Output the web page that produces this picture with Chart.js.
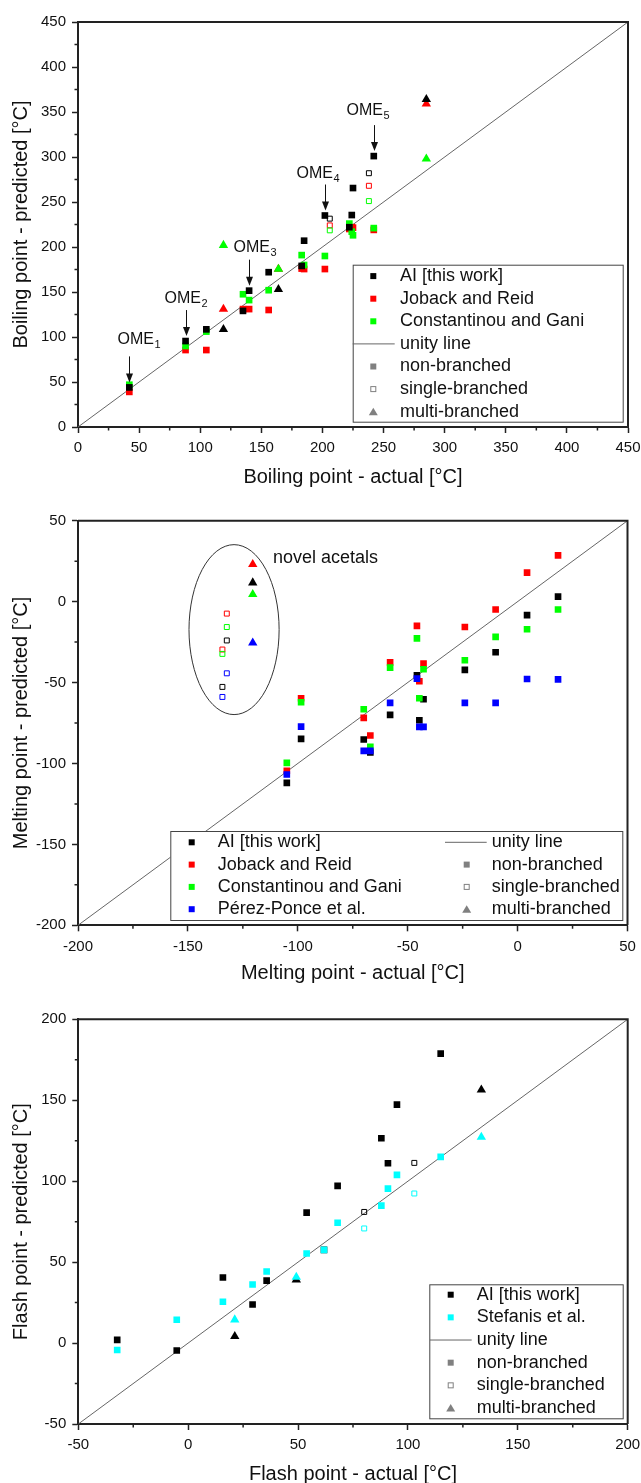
<!DOCTYPE html>
<html>
<head>
<meta charset="utf-8">
<title>Predicted vs. actual boiling, melting and flash points</title>
<script src="https://cdn.jsdelivr.net/npm/chart.js@4.4.1/dist/chart.umd.min.js"></script>
<style>
  html, body { margin: 0; padding: 0; background: #fff; overflow: hidden; }
  canvas { display: block; }
</style>
</head>
<body>
<canvas id="bpChart" width="641" height="495"></canvas>
<canvas id="mpChart" width="641" height="495"></canvas>
<canvas id="fpChart" width="641" height="500"></canvas>
<script>
// branching: n = non-branched, s = single-branched, m = multi-branched

// boiling point [°C]
var bpRange   = [0, 450];
var bpActual  = [42, 88, 105, 119, 135, 140, 156, 164, 183, 185, 202, 206, 222, 224, 225, 238, 242, 285];
var bpBranch  = ['n','n','n','m','n','n','n','m','n','n','n','s','n','n','n','s','n','m'];
var bpAI      = [44, 95.5, 108.5, 108.5, 129, 151.5, 172, 153, 179, 207, 235, 231.5, 222, 235.5, 265.5, 282, 301, 364];
var bpJoback  = [39, 85.5, 85.5, 131, 131, 131, 130, 175.5, 176, 175.5, 175.5, 224, 220, 222, 221.5, 268, 219, 359];
var bpCG      = [47, 90, 106, 202, 147.5, 141, 152, 175.5, 191, 180, 190, 218.5, 226, 217, 213, 251, 221, 298];

// melting point [°C]
var mpRange   = [-200, 50];
var mpActual  = [-134.3, -132.3, -120.5, -105, -98.5, -70, -67, -58, -45.8, -44.7, -42.8, -24, -10, 4.3, 18.4];
var mpBranch  = ['s','s','m','n','n','n','n','n','n','n','n','n','n','n','n'];
var mpAI      = [-52.7, -24, 11.7, -112, -84.8, -85.2, -93.2, -70, -45.5, -73.3, -60.3, -42.2, -31.3, -8.3, 3.1];
var mpJoback  = [-29.6, -7.4, 23, -104.5, -59.7, -71.8, -82.7, -37.5, -15, -49.2, -38.3, -15.7, -4.9, 17.9, 28.6];
var mpCG      = [-32.3, -15.7, 4.5, -99.6, -62.2, -66.5, -89.7, -40.8, -22.7, -59.7, -41.8, -36.2, -21.8, -17.1, -4.9];
var mpPerez   = [-58.9, -44.3, -25.5, -106.8, -77.2, -92.2, -92.2, -62.6, -47.6, -77.4, -77.4, -62.6, -62.6, -47.8, -48];

// flash point [°C]
var fpRange   = [-50, 200];
var fpActual  = [-32.3, -5.2, 15.8, 21.2, 29.3, 35.7, 49.2, 53.9, 61.8, 68, 80.1, 87.9, 90.9, 95, 102.9, 114.9, 133.4];
var fpBranch  = ['n','n','n','m','n','n','m','n','n','n','s','n','n','n','s','n','m'];
var fpAI      = [2, -4.6, 40.5, 4.1, 23.8, 38.6, 39.1, 80.6, 57.6, 97.1, 81, 126.5, 111.1, 147.3, 111.3, 178.8, 156.4];
var fpStefanis = [-4.3, 14.4, 25.5, 14.4, 36.2, 44.2, 40.7, 55.3, 57.6, 74.3, 70.8, 84.9, 95.4, 103.9, 92.4, 115, 127.2];

// OME_n labels in the boiling point plot (index into bpActual)
var omeTags = [
    {n: '1', at: 0,  dx: -12, lift: 43},
    {n: '2', at: 1,  dx: -22, lift: 38},
    {n: '3', at: 5,  dx: -16, lift: 39},
    {n: '4', at: 10, dx: -29, lift: 38},
    {n: '5', at: 16, dx: -28, lift: 41}
];

// ring around the novel acetals, in melting point units
var acetalRing = {x: -129, y: -17.3, rx: 20.5, ry: 52.5};
var acetalText = {x: -111.3, y: 27.2, text: 'novel acetals'};

var FONT = '"Liberation Sans", Arial, sans-serif';
var W = 641;

Chart.defaults.font.family = FONT;
Chart.defaults.color = '#111';

function pointSet(label, color, actual, pred, branch, order) {
    var pts = [];
    for (var i = 0; i < actual.length; i++) {
        pts.push({x: actual[i], y: pred[i], branch: branch[i]});
    }
    function kind(c) { return c.raw ? c.raw.branch : 'n'; }
    return {
        label: label,
        data: pts,
        order: order,
        showLine: false,
        pointStyle: function(c) { return kind(c) === 'm' ? 'triangle' : 'rect'; },
        pointRadius: function(c) {
            var k = kind(c);
            return k === 'm' ? 5.4 : (k === 's' ? 3.5 : 4.7);
        },
        pointBackgroundColor: function(c) { return kind(c) === 's' ? 'rgba(255,255,255,0)' : color; },
        pointBorderColor: color,
        pointBorderWidth: function(c) { return kind(c) === 's' ? 1 : 0; }
    };
}

function unityLine(range) {
    return {
        label: 'unity line',
        data: [{x: range[0], y: range[0]}, {x: range[1], y: range[1]}],
        order: 20,
        showLine: true,
        borderColor: '#666',
        borderWidth: 1,
        pointRadius: 0
    };
}

function axes(range, xTitle, yTitle, area, h, pad) {
    var grid = {drawOnChartArea: false, drawTicks: true, tickLength: 6, tickWidth: 1.5, tickColor: '#222', color: '#222'};
    var border = {display: true, color: '#222', width: 2};
    return {
        x: {
            type: 'linear', min: range[0], max: range[1],
            ticks: {stepSize: 50, font: {size: 15}, color: '#111', padding: pad.xTick, maxRotation: 0, autoSkip: false},
            grid: grid, border: border,
            title: {display: true, text: xTitle, font: {size: 20}, color: '#111', padding: {top: 0, bottom: pad.xTitle}},
            afterFit: function(s) {
                s.height = h - area.bottom;
                s.paddingLeft = 0;
                s.paddingRight = 0;
            }
        },
        y: {
            type: 'linear', min: range[0], max: range[1],
            ticks: {stepSize: 50, font: {size: 15}, color: '#111', padding: 6, autoSkip: false},
            grid: grid, border: border,
            title: {display: true, text: yTitle, font: {size: 20}, color: '#111', padding: {top: 9, bottom: 0}},
            afterFit: function(s) {
                s.width = area.left;
                s.paddingTop = 0;
                s.paddingBottom = 0;
            }
        }
    };
}

// top/right border of the plot box plus the minor ticks
var frame = {
    id: 'frame',
    afterDraw: function(chart) {
        var a = chart.chartArea, ctx = chart.ctx;
        var xs = chart.scales.x, ys = chart.scales.y;
        ctx.save();
        ctx.strokeStyle = '#222';
        ctx.lineWidth = 2;
        ctx.beginPath();
        ctx.moveTo(a.left, a.top);
        ctx.lineTo(a.right, a.top);
        ctx.lineTo(a.right, a.bottom);
        ctx.stroke();
        ctx.lineWidth = 1.5;
        ctx.beginPath();
        for (var v = xs.min + 25; v < xs.max; v += 50) {
            var px = xs.getPixelForValue(v);
            ctx.moveTo(px, a.bottom);
            ctx.lineTo(px, a.bottom + 3.5);
        }
        for (v = ys.min + 25; v < ys.max; v += 50) {
            var py = ys.getPixelForValue(v);
            ctx.moveTo(a.left, py);
            ctx.lineTo(a.left - 3.5, py);
        }
        ctx.stroke();
        ctx.restore();
    }
};

function drawMark(ctx, mark, color, x, y) {
    ctx.fillStyle = color;
    ctx.strokeStyle = color;
    if (mark === 'rect') {
        ctx.fillRect(x - 3, y - 3, 6, 6);
    } else if (mark === 'open') {
        ctx.lineWidth = 1;
        ctx.strokeRect(x - 2.5, y - 2.5, 5, 5);
    } else if (mark === 'tri') {
        ctx.beginPath();
        ctx.moveTo(x, y - 4);
        ctx.lineTo(x + 4.5, y + 3.5);
        ctx.lineTo(x - 4.5, y + 3.5);
        ctx.closePath();
        ctx.fill();
    }
}

// boxed legend in the lower right corner of the plot area
function legendBox(cfg) {
    return {
        id: 'legendBox',
        afterDatasetsDraw: function(chart) {
            var a = chart.chartArea, ctx = chart.ctx;
            var left = a.right - cfg.inset[0] - cfg.width;
            var top = a.bottom - cfg.inset[1] - cfg.height;
            ctx.save();
            ctx.fillStyle = '#fff';
            ctx.fillRect(left, top, cfg.width, cfg.height);
            ctx.strokeStyle = '#444';
            ctx.lineWidth = 1;
            ctx.strokeRect(left + 0.5, top + 0.5, cfg.width, cfg.height);
            cfg.columns.forEach(function(col) {
                col.items.forEach(function(item, k) {
                    var y = top + cfg.firstRow + k * cfg.rowGap;
                    if (item.mark === 'line') {
                        ctx.strokeStyle = '#666';
                        ctx.lineWidth = 1;
                        ctx.beginPath();
                        ctx.moveTo(left + col.line[0], y);
                        ctx.lineTo(left + col.line[1], y);
                        ctx.stroke();
                    } else {
                        drawMark(ctx, item.mark, item.color, left + col.mark, y);
                    }
                    ctx.fillStyle = '#111';
                    ctx.font = '18px ' + FONT;
                    ctx.textAlign = 'left';
                    ctx.textBaseline = 'middle';
                    ctx.fillText(item.text, left + col.text, y);
                });
            });
            ctx.restore();
        }
    };
}

var branchItems = [
    {mark: 'rect', color: '#808080', text: 'non-branched'},
    {mark: 'open', color: '#808080', text: 'single-branched'},
    {mark: 'tri',  color: '#808080', text: 'multi-branched'}
];
var unityItem = {mark: 'line', text: 'unity line'};

// arrows + OME_n labels
var omeLabels = {
    id: 'omeLabels',
    afterDatasetsDraw: function(chart) {
        var xs = chart.scales.x, ys = chart.scales.y, ctx = chart.ctx;
        ctx.save();
        omeTags.forEach(function(t) {
            var px = Math.round(xs.getPixelForValue(bpActual[t.at])) + 0.5;
            var py = ys.getPixelForValue(bpAI[t.at]);
            ctx.strokeStyle = '#111';
            ctx.fillStyle = '#111';
            ctx.lineWidth = 1;
            ctx.beginPath();
            ctx.moveTo(px, py - 31);
            ctx.lineTo(px, py - 12);
            ctx.stroke();
            ctx.beginPath();
            ctx.moveTo(px, py - 5);
            ctx.lineTo(px - 3.5, py - 14);
            ctx.lineTo(px + 3.5, py - 14);
            ctx.closePath();
            ctx.fill();

            var base = py - t.lift;
            ctx.textAlign = 'left';
            ctx.textBaseline = 'alphabetic';
            ctx.font = '16px ' + FONT;
            ctx.fillText('OME', px + t.dx, base);
            var w = ctx.measureText('OME').width;
            ctx.font = '11px ' + FONT;
            ctx.fillText(t.n, px + t.dx + w + 0.5, base + 4);
        });
        ctx.restore();
    }
};

var acetalMark = {
    id: 'acetalMark',
    beforeDatasetsDraw: function(chart) {
        var xs = chart.scales.x, ys = chart.scales.y, ctx = chart.ctx;
        var cx = xs.getPixelForValue(acetalRing.x);
        var cy = ys.getPixelForValue(acetalRing.y);
        var rx = Math.abs(xs.getPixelForValue(acetalRing.x + acetalRing.rx) - cx);
        var ry = Math.abs(ys.getPixelForValue(acetalRing.y + acetalRing.ry) - cy);
        ctx.save();
        ctx.strokeStyle = '#333';
        ctx.lineWidth = 1;
        ctx.beginPath();
        ctx.ellipse(cx, cy, rx, ry, 0, 0, Math.PI * 2);
        ctx.stroke();
        ctx.fillStyle = '#111';
        ctx.font = '18px ' + FONT;
        ctx.textAlign = 'left';
        ctx.textBaseline = 'middle';
        ctx.fillText(acetalText.text, xs.getPixelForValue(acetalText.x), ys.getPixelForValue(acetalText.y));
        ctx.restore();
    }
};

function makePanel(id, datasets, range, titles, area, pad, plugins) {
    var canvas = document.getElementById(id);
    var h = canvas.height;
    return new Chart(canvas, {
        type: 'scatter',
        data: {datasets: datasets},
        options: {
            responsive: false,
            animation: false,
            events: [],
            layout: {padding: {left: 0, top: area.top, right: W - area.right, bottom: 0}},
            scales: axes(range, titles[0], titles[1], area, h, pad),
            plugins: {legend: {display: false}, tooltip: {enabled: false}}
        },
        plugins: plugins
    });
}

function pageLoad() {
    makePanel('bpChart', [
            pointSet('AI [this work]', '#000000', bpActual, bpAI, bpBranch, 0),
            pointSet('Constantinou and Gani', '#00ff00', bpActual, bpCG, bpBranch, 1),
            pointSet('Joback and Reid', '#ff0000', bpActual, bpJoback, bpBranch, 2),
            unityLine(bpRange)
        ], bpRange,
        ['Boiling point - actual [°C]', 'Boiling point - predicted [°C]'],
        {left: 78, top: 22, right: 628, bottom: 427},
        {xTick: 5.5, xTitle: 6},
        [frame, omeLabels, legendBox({
            width: 270, height: 157, inset: [5.3, 5.3], firstRow: 11.4, rowGap: 22.6,
            columns: [{mark: 20.6, text: 47.3, line: [0, 42],
                items: [
                    {mark: 'rect', color: '#000000', text: 'AI [this work]'},
                    {mark: 'rect', color: '#ff0000', text: 'Joback and Reid'},
                    {mark: 'rect', color: '#00ff00', text: 'Constantinou and Gani'},
                    unityItem
                ].concat(branchItems)}]
        })]);

    makePanel('mpChart', [
            pointSet('Pérez-Ponce et al.', '#0000ff', mpActual, mpPerez, mpBranch, 0),
            pointSet('Constantinou and Gani', '#00ff00', mpActual, mpCG, mpBranch, 1),
            pointSet('Joback and Reid', '#ff0000', mpActual, mpJoback, mpBranch, 2),
            pointSet('AI [this work]', '#000000', mpActual, mpAI, mpBranch, 3),
            unityLine(mpRange)
        ], mpRange,
        ['Melting point - actual [°C]', 'Melting point - predicted [°C]'],
        {left: 78, top: 25.7, right: 627.5, bottom: 430.3},
        {xTick: 6.4, xTitle: 4.2},
        [frame, acetalMark, legendBox({
            width: 452, height: 89, inset: [5.2, 5.3], firstRow: 11.3, rowGap: 22.3,
            columns: [
                {mark: 21.4, text: 47.4, line: [0, 42], items: [
                    {mark: 'rect', color: '#000000', text: 'AI [this work]'},
                    {mark: 'rect', color: '#ff0000', text: 'Joback and Reid'},
                    {mark: 'rect', color: '#00ff00', text: 'Constantinou and Gani'},
                    {mark: 'rect', color: '#0000ff', text: 'Pérez-Ponce et al.'}
                ]},
                {mark: 296.4, text: 321.4, line: [274.7, 316.4], items: [unityItem].concat(branchItems)}
            ]
        })]);

    makePanel('fpChart', [
            pointSet('Stefanis et al.', '#00ffff', fpActual, fpStefanis, fpBranch, 0),
            pointSet('AI [this work]', '#000000', fpActual, fpAI, fpBranch, 1),
            unityLine(fpRange)
        ], fpRange,
        ['Flash point - actual [°C]', 'Flash point - predicted [°C]'],
        {left: 78.3, top: 29.3, right: 627.7, bottom: 434},
        {xTick: 6, xTitle: 3.5},
        [frame, legendBox({
            width: 193.4, height: 134, inset: [5, 5.7], firstRow: 10.4, rowGap: 22.66,
            columns: [{mark: 21.4, text: 47.4, line: [0.7, 42.4],
                items: [
                    {mark: 'rect', color: '#000000', text: 'AI [this work]'},
                    {mark: 'rect', color: '#00ffff', text: 'Stefanis et al.'},
                    unityItem
                ].concat(branchItems)}]
        })]);
}

window.onload = pageLoad;
</script>
</body>
</html>
